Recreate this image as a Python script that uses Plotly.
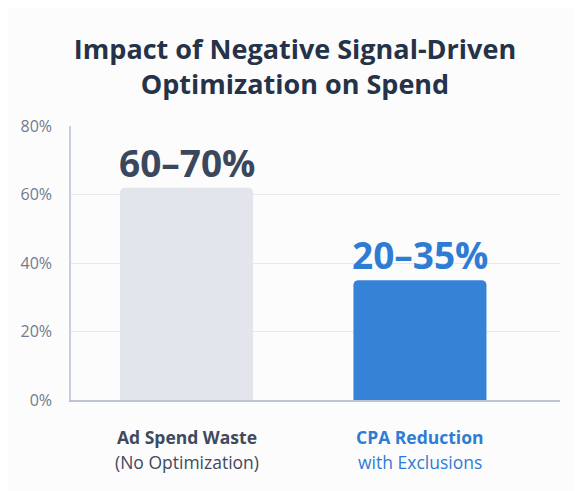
import plotly.graph_objects as go

# Chart data
categories = ["Ad Spend Waste", "CPA Reduction"]
values = [62, 35]
value_labels = ["60–70%", "20–35%"]
subtitles = ["(No Optimization)", "with Exclusions"]
bar_colors = ["#e2e5eb", "#3682d6"]
text_colors = ["#3a475c", "#2f7dd3"]
label_colors = ["#3f4a5c", "#2f7dd3"]
y_ticks = [0, 20, 40, 60, 80]
y_tick_labels = ["0%", "20%", "40%", "60%", "80%"]

fig = go.Figure()

fig.add_trace(go.Bar(
    x=categories, y=values,
    marker=dict(color=bar_colors, line=dict(width=0), cornerradius=5),
    width=0.57,
    hoverinfo="skip"
))

# Value labels above bars
for cat, val, lab, col in zip(categories, values, value_labels, text_colors):
    fig.add_annotation(
        x=cat, y=val, text="<b>" + lab + "</b>",
        xref="x", yref="y", yanchor="bottom", yshift=-2,
        showarrow=False,
        font=dict(family="Open Sans", size=37, color=col)
    )

# Category labels under the axis
for cat, sub, col in zip(categories, subtitles, label_colors):
    fig.add_annotation(
        x=cat, y=0, text="<b>" + cat + "</b>",
        xref="x", yref="y", yanchor="middle", yshift=-37,
        showarrow=False,
        font=dict(family="Open Sans", size=17.5, color=col)
    )
    fig.add_annotation(
        x=cat, y=0, text=sub,
        xref="x", yref="y", yanchor="middle", yshift=-62,
        showarrow=False,
        font=dict(family="Open Sans", size=17.5, color=col)
    )

fig.update_layout(
    width=574, height=483,
    margin=dict(l=63, r=22, t=118, b=91),
    paper_bgcolor="#fcfcfd",
    plot_bgcolor="#fcfcfd",
    showlegend=False,
    title=dict(
        text="<b>Impact of Negative Signal-Driven<br>Optimization on Spend</b>",
        x=0.5, xref="container", xanchor="center",
        y=0.895, yref="container", yanchor="middle",
        font=dict(family="Open Sans", size=27, color="#253247")
    ),
    xaxis=dict(
        range=[-0.495, 1.6],
        showticklabels=False,
        showgrid=False,
        showline=True, linecolor="#bcc4d4", linewidth=1.5,
        zeroline=False
    ),
    yaxis=dict(
        range=[0, 80],
        tickvals=y_ticks, ticktext=y_tick_labels,
        showgrid=True, gridcolor="#e6e9f0", gridwidth=1,
        showline=True, linecolor="#c8cfdc", linewidth=1.5,
        zeroline=False,
        ticklabelstandoff=14,
        tickfont=dict(family="Open Sans", size=16, color="#707a8e")
    )
)

fig.write_html("out.html")
